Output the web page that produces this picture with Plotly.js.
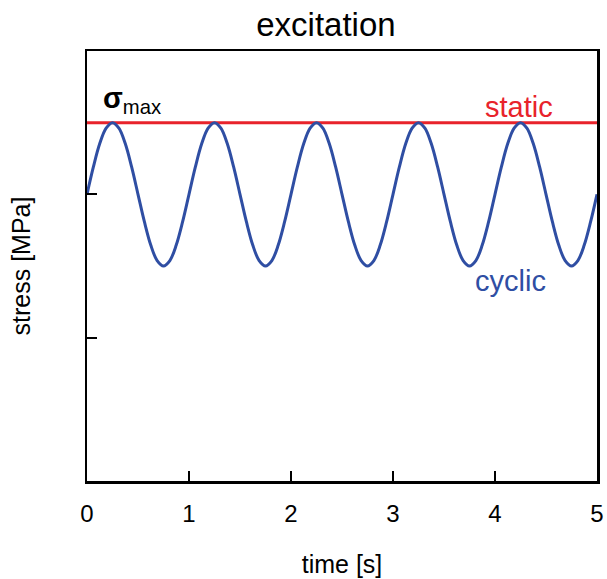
<!DOCTYPE html>
<html>
<head>
<meta charset="utf-8">
<script src="https://cdn.plot.ly/plotly-3.0.1.min.js"></script>
<style>
  html, body { margin: 0; padding: 0; background: #fff; }
  #chart { width: 607px; height: 579px; }
</style>
</head>
<body>
<div id="chart"></div>
<script>
// time samples [s], sixteen per one-second period
const time = [
  0, 0.0625, 0.125, 0.1875, 0.25, 0.3125, 0.375, 0.4375, 0.5, 0.5625, 0.625, 0.6875, 0.75, 0.8125, 0.875, 0.9375,
  1, 1.0625, 1.125, 1.1875, 1.25, 1.3125, 1.375, 1.4375, 1.5, 1.5625, 1.625, 1.6875, 1.75, 1.8125, 1.875, 1.9375,
  2, 2.0625, 2.125, 2.1875, 2.25, 2.3125, 2.375, 2.4375, 2.5, 2.5625, 2.625, 2.6875, 2.75, 2.8125, 2.875, 2.9375,
  3, 3.0625, 3.125, 3.1875, 3.25, 3.3125, 3.375, 3.4375, 3.5, 3.5625, 3.625, 3.6875, 3.75, 3.8125, 3.875, 3.9375,
  4, 4.0625, 4.125, 4.1875, 4.25, 4.3125, 4.375, 4.4375, 4.5, 4.5625, 4.625, 4.6875, 4.75, 4.8125, 4.875, 4.9375,
  5
];
// cyclic stress [MPa]
const cyclicStress = [
  2, 2.191, 2.354, 2.462, 2.5, 2.462, 2.354, 2.191, 2, 1.809, 1.646, 1.538, 1.5, 1.538, 1.646, 1.809,
  2, 2.191, 2.354, 2.462, 2.5, 2.462, 2.354, 2.191, 2, 1.809, 1.646, 1.538, 1.5, 1.538, 1.646, 1.809,
  2, 2.191, 2.354, 2.462, 2.5, 2.462, 2.354, 2.191, 2, 1.809, 1.646, 1.538, 1.5, 1.538, 1.646, 1.809,
  2, 2.191, 2.354, 2.462, 2.5, 2.462, 2.354, 2.191, 2, 1.809, 1.646, 1.538, 1.5, 1.538, 1.646, 1.809,
  2, 2.191, 2.354, 2.462, 2.5, 2.462, 2.354, 2.191, 2, 1.809, 1.646, 1.538, 1.5, 1.538, 1.646, 1.809,
  2
];
// static stress level [MPa]
const staticTime = [0, 5];
const staticStress = [2.5, 2.5];

const xTicks = [0, 1, 2, 3, 4, 5];
const yTicks = [1, 2];

const FONT = 'Liberation Sans, Arial, Helvetica, sans-serif';
const BLUE = '#2f4ea3';
const RED = '#e8232b';

const traces = [
  {
    x: staticTime, y: staticStress, type: 'scatter', mode: 'lines',
    line: { color: RED, width: 3 }, hoverinfo: 'skip'
  },
  {
    x: time, y: cyclicStress, type: 'scatter', mode: 'lines',
    line: { color: BLUE, width: 3, shape: 'spline', smoothing: 1 },
    hoverinfo: 'skip'
  }
];

const axisCommon = {
  showline: true, linecolor: '#000', linewidth: 2.5, mirror: true,
  ticks: 'inside', ticklen: 10, tickwidth: 2, tickcolor: '#000',
  showgrid: false, zeroline: false
};

const layout = {
  width: 607, height: 579,
  margin: { l: 87, r: 10, t: 51, b: 98 },
  paper_bgcolor: '#fff', plot_bgcolor: '#fff',
  showlegend: false,
  font: { family: FONT, color: '#000' },
  title: {
    text: 'excitation', font: { family: FONT, size: 33, color: '#000' },
    x: 0.537, xref: 'container', xanchor: 'center',
    y: 0.9585, yref: 'container', yanchor: 'middle'
  },
  xaxis: Object.assign({}, axisCommon, {
    range: [0, 5], tickvals: xTicks, ticktext: xTicks.map(String),
    tickfont: { family: FONT, size: 24, color: '#000' },
    ticklabelstandoff: 10,
    title: { text: 'time [s]', font: { family: FONT, size: 25, color: '#000' }, standoff: 29 }
  }),
  yaxis: Object.assign({}, axisCommon, {
    range: [0, 3], tickvals: yTicks, showticklabels: false,
    title: { text: 'stress [MPa]', font: { family: FONT, size: 25, color: '#000' }, standoff: 47 }
  }),
  annotations: [
    {
      x: 0.14, y: 2.52, xref: 'x', yref: 'y', xanchor: 'left', yanchor: 'bottom',
      text: '<b>σ</b><sub>max</sub>', showarrow: false,
      font: { family: FONT, size: 29, color: '#000' }
    },
    {
      x: 4.235, y: 2.61, xref: 'x', yref: 'y', xanchor: 'center', yanchor: 'middle',
      text: 'static', showarrow: false,
      font: { family: FONT, size: 29, color: RED }
    },
    {
      x: 4.152, y: 1.396, xref: 'x', yref: 'y', xanchor: 'center', yanchor: 'middle',
      text: 'cyclic', showarrow: false,
      font: { family: FONT, size: 29, color: BLUE }
    }
  ]
};

Plotly.newPlot('chart', traces, layout, { displayModeBar: false, staticPlot: true });
</script>
</body>
</html>
